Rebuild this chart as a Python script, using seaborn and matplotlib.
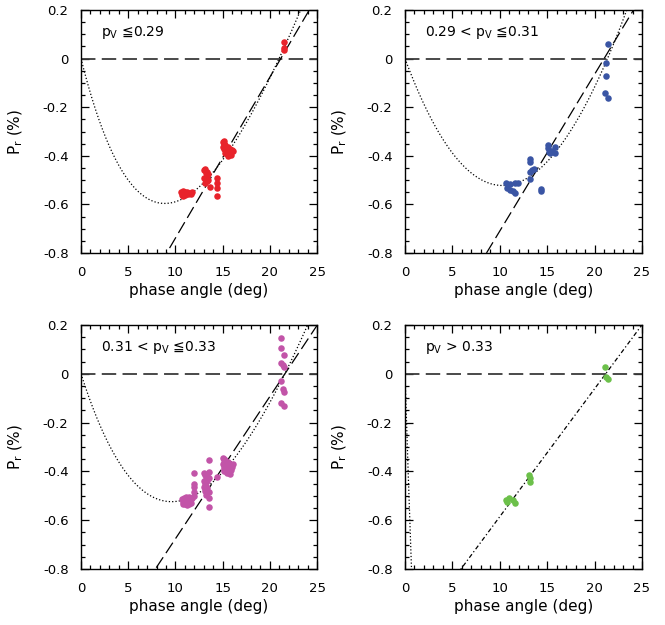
import numpy as np
import pandas as pd
import matplotlib
matplotlib.use("Agg")
import matplotlib.pyplot as plt
from matplotlib.ticker import MultipleLocator
import seaborn as sns

# ---------------------------------------------------------------------------
# Polarization measurements: phase angle (deg) and Pr (%), by albedo bin
# ---------------------------------------------------------------------------
alpha_bin1 = [10.6, 10.7, 10.8, 10.8, 10.9, 11.0, 11.0, 11.1, 11.2, 11.3, 11.4, 11.6, 11.8,
              13.0, 13.1, 13.2, 13.4, 13.5, 13.0, 13.2, 13.4, 13.1, 13.3, 13.5, 13.7,
              14.4, 14.4, 14.4, 14.4,
              15.0, 15.1, 15.2, 15.3, 15.0, 15.2, 15.4, 15.6, 15.8, 16.0, 15.5, 15.7,
              15.9, 16.1, 15.3, 15.6, 15.9,
              21.5, 21.5, 21.55]
pr_bin1 = [-0.550, -0.560, -0.545, -0.565, -0.555, -0.550, -0.562, -0.555, -0.548, -0.558,
           -0.552, -0.556, -0.550,
           -0.460, -0.455, -0.470, -0.468, -0.475, -0.490, -0.495, -0.485, -0.510, -0.505,
           -0.500, -0.527,
           -0.493, -0.513, -0.534, -0.564,
           -0.345, -0.340, -0.350, -0.355, -0.365, -0.370, -0.375, -0.365, -0.370, -0.375,
           -0.385, -0.390, -0.385, -0.380, -0.390, -0.400, -0.395,
           0.070, 0.045, 0.035]

alpha_bin2 = [10.65, 10.79, 11.08, 11.43, 11.6, 11.08, 11.6, 11.95,
              13.19, 13.19, 13.2, 13.35, 13.19, 13.6,
              14.35, 14.35,
              15.12, 15.12, 15.82, 15.82, 15.3, 15.47, 15.2,
              21.45, 21.17, 21.17, 21.1, 21.45]
pr_bin2 = [-0.511, -0.534, -0.541, -0.545, -0.552, -0.517, -0.513, -0.511,
           -0.414, -0.427, -0.465, -0.458, -0.497, -0.454,
           -0.538, -0.545,
           -0.356, -0.369, -0.363, -0.390, -0.390, -0.379, -0.383,
           0.059, -0.020, -0.072, -0.140, -0.162]

alpha_bin3 = [10.7, 10.8, 10.9, 11.0, 11.1, 11.2, 11.3, 11.4, 11.5, 11.6, 11.8, 10.8, 11.0,
              11.2, 11.4, 11.6, 11.1, 11.3,
              12.0, 12.0, 12.0, 12.0, 12.0,
              13.0, 13.1, 13.2, 13.0, 13.1, 13.2, 13.0, 13.3, 13.1, 13.4, 13.2, 13.3, 13.4,
              13.6, 13.6, 13.6, 13.6, 13.6, 13.6,
              14.44,
              15.0, 15.1, 15.2, 15.3, 15.0, 15.2, 15.4, 15.1, 15.3, 15.5, 15.7, 15.9, 16.0,
              15.8, 15.6, 16.1, 15.5, 15.8, 15.2,
              21.2, 21.2, 21.5, 21.2, 21.4, 21.5, 21.2, 21.4, 21.5, 21.2, 21.5]
pr_bin3 = [-0.515, -0.525, -0.510, -0.520, -0.530, -0.515, -0.525, -0.505, -0.520, -0.530,
           -0.510, -0.535, -0.535, -0.538, -0.532, -0.515, -0.505, -0.520,
           -0.405, -0.453, -0.465, -0.483, -0.500,
           -0.405, -0.415, -0.430, -0.440, -0.450, -0.460, -0.465, -0.470, -0.480, -0.485,
           -0.495, -0.420, -0.440,
           -0.353, -0.401, -0.428, -0.483, -0.510, -0.545,
           -0.424,
           -0.345, -0.350, -0.360, -0.355, -0.370, -0.380, -0.375, -0.390, -0.395, -0.385,
           -0.390, -0.395, -0.380, -0.370, -0.360, -0.370, -0.405, -0.410, -0.400,
           0.148, 0.107, 0.077, 0.046, 0.036, 0.029, -0.030, -0.062, -0.073, -0.121, -0.131]

alpha_bin4 = [10.65, 10.73, 11.0, 11.43, 11.6, 13.11, 13.19, 13.19, 21.1, 21.2, 21.45]
pr_bin4 = [-0.517, -0.524, -0.510, -0.517, -0.528, -0.415, -0.428, -0.445, 0.029, -0.012, -0.023]

bin_labels = [r"p$_{\rm V}$ ≦0.29",
              r"0.29 < p$_{\rm V}$ ≦0.31",
              r"0.31 < p$_{\rm V}$ ≦0.33",
              r"p$_{\rm V}$ > 0.33"]
bin_colors = ["#e8232b", "#3a55a4", "#c254a8", "#6cc04a"]

# Linear fits near inversion: Pr = slope * (alpha - alpha_inv)
lin_slope = [0.0662, 0.0645, 0.0583, 0.0524]
lin_alpha_inv = [21.16, 21.0, 21.6, 21.17]

# Exponential-linear phase-curve fits: Pr = A (exp(-alpha/B) - 1) + C alpha
expl_A = [3.08, 28.2, 4.30, 6.5]
expl_B = [11.0, 50.0, 16.0, 5.0]
expl_C = [0.125, 0.459, 0.1475, 0.05]

x_ticks = [0, 5, 10, 15, 20, 25]
x_tick_labels = ["0", "5", "10", "15", "20", "25"]
y_ticks = [-0.8, -0.6, -0.4, -0.2, 0.0, 0.2]
y_tick_labels = ["-0.8", "-0.6", "-0.4", "-0.2", "0", "0.2"]

# ---------------------------------------------------------------------------
sns.set_style("ticks")
plt.rcParams["font.family"] = ["DejaVu Sans"]
plt.rcParams["axes.unicode_minus"] = False
plt.rcParams["text.color"] = "black"
plt.rcParams["axes.labelcolor"] = "black"
plt.rcParams["xtick.color"] = "black"
plt.rcParams["ytick.color"] = "black"

fig = plt.figure(figsize=(6.65, 6.25), dpi=100)
W, H = 665.0, 625.0
boxes = [(81, 10, 236, 243), (405, 10, 237, 243),
         (81, 325, 236, 244), (405, 325, 237, 244)]

data_sets = [(alpha_bin1, pr_bin1), (alpha_bin2, pr_bin2),
             (alpha_bin3, pr_bin3), (alpha_bin4, pr_bin4)]

grid = np.linspace(0.0, 25.0, 600)

for i, (x0, y0, w, h) in enumerate(boxes):
    ax = fig.add_axes([x0 / W, 1 - (y0 + h) / H, w / W, h / H])
    a, p = data_sets[i]
    df = pd.DataFrame({"alpha": a, "pr": p})

    # zero-polarization reference
    ax.axhline(0, color="#3a3a3a", lw=1.3, dashes=(8, 3.5), zorder=1)

    # phase-curve fit (dotted)
    model = expl_A[i] * (np.exp(-grid / expl_B[i]) - 1) + expl_C[i] * grid
    ax.plot(grid, model, color="black", lw=0.9, ls=":", zorder=2)

    # linear fit
    lin = lin_slope[i] * (grid - lin_alpha_inv[i])
    if i == 3:
        ax.plot(grid, lin, color="black", lw=0.9, dashes=(3.5, 2, 1, 2), zorder=2)
    else:
        ax.plot(grid, lin, color="black", lw=0.9, dashes=(10, 4), zorder=2)

    sns.scatterplot(data=df, x="alpha", y="pr", ax=ax, color=bin_colors[i],
                    s=22, linewidth=0, zorder=3, legend=False)

    ax.set_xlim(0, 25)
    ax.set_ylim(-0.8, 0.2)
    ax.set_xticks(x_ticks, x_tick_labels)
    ax.set_yticks(y_ticks, y_tick_labels)
    ax.xaxis.set_minor_locator(MultipleLocator(1))
    ax.yaxis.set_minor_locator(MultipleLocator(0.05))
    ax.tick_params(which="both", direction="in", top=True, right=True,
                   color="black", labelcolor="black", width=0.9)
    ax.tick_params(which="major", length=6, labelsize=9.5)
    ax.tick_params(which="minor", length=3)
    ax.tick_params(axis="x", which="major", pad=9.5)
    ax.tick_params(axis="y", which="major", pad=9)
    for sp in ax.spines.values():
        sp.set_linewidth(1.0)
        sp.set_color("black")

    ax.set_xlabel("phase angle (deg)", fontsize=11, color="black")
    ax.set_ylabel(r"P$_{\rm r}$ (%)", fontsize=11, color="black")
    ax.xaxis.set_label_coords(0.5, -30.0 / h)
    ax.yaxis.set_label_coords(-56.0 / w, 0.5)

    ax.text(0.083, 0.895, bin_labels[i], transform=ax.transAxes,
            fontsize=10, va="baseline", ha="left", color="black")

fig.savefig("out.png", dpi=100)
